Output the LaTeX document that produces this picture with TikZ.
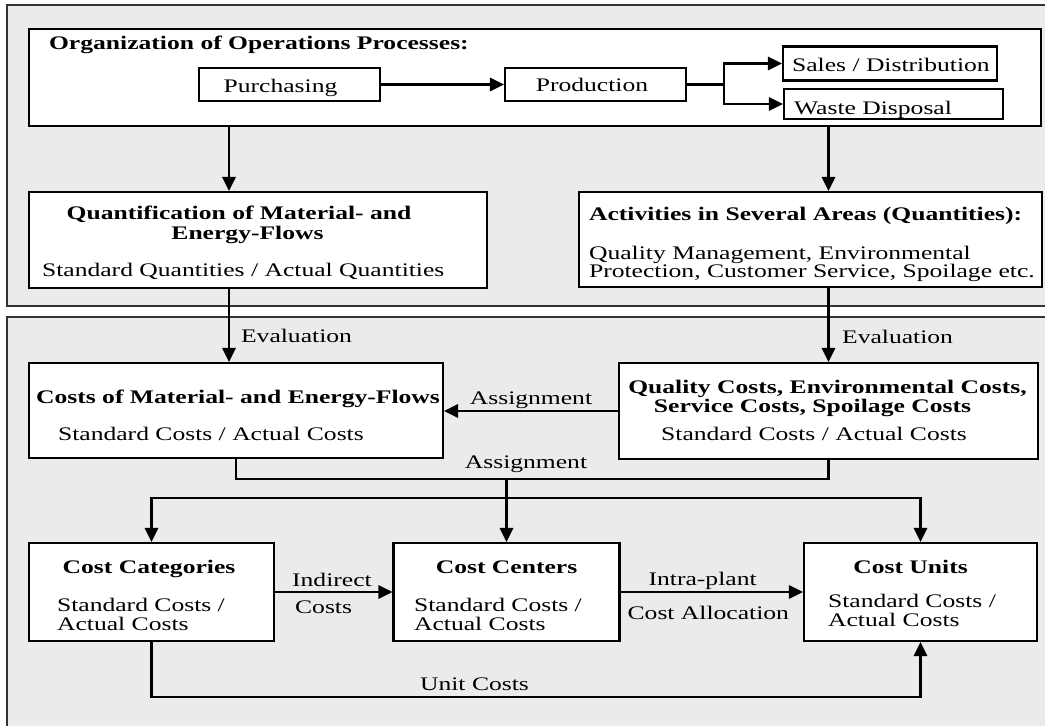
\documentclass[tikz,border=0pt]{standalone}
\usepackage{fontspec}
\setmainfont{Liberation Serif}[FakeStretch=1.333]
\usepackage{tikz}
\usetikzlibrary{arrows.meta,calc,positioning}
\definecolor{panelgray}{RGB}{235,235,235}
\definecolor{rimgray}{RGB}{50,50,50}
\newcommand{\diagfont}{\fontsize{14.4}{16}\selectfont}
\tikzstyle{arrow} = [draw, ->]
\tikzstyle{box} = [rectangle, draw=black, fill=white, inner sep=0pt]
\tikzstyle{txt} = [inner sep=0pt, anchor=base west, font=\diagfont]
\tikzstyle{head} = [txt, font={\diagfont\bfseries}]
\tikzstyle{panel} = [draw=rimgray, fill=panelgray]

\begin{document}
\begin{tikzpicture}[
    x=0.75pt, y=-0.75pt,
    line width=1.6pt,
    >={Triangle[length=10.5pt,width=10pt]},
    font=\diagfont
  ]
    \useasboundingbox (0,0) rectangle (1045,725);
    \clip (0,0) rectangle (1045,725);
    \fill [white] (0,0) rectangle (1045,725);
    \draw [panel] (7,5) rectangle (1060,306);
    \draw [panel] (7,317) rectangle (1060,740);

    % quantities
    \node [box, minimum width=759pt, minimum height=72.75pt] (org) at (535,77.5) {};
    \node [head] (orgt) at (48,49) {Organization of Operations Processes:};
    \node [box, minimum width=135.75pt, minimum height=24.75pt] (purch) at (289.5,84.5) {};
    \node [txt, anchor=base] (purcht) at (280.5,92) {Purchasing};
    \node [box, minimum width=135.75pt, minimum height=24.75pt] (prod) at (595.5,84.5) {};
    \node [txt, anchor=base] (prodt) at (592,91) {Production};
    \node [box, minimum width=160.5pt, minimum height=25.5pt] (sales) at (890,63.5) {};
    \node [txt] (salest) at (791,71) {Sales / Distribution};
    \node [box, minimum width=164.25pt, minimum height=22.5pt] (waste) at (893.5,104) {};
    \node [txt] (wastet) at (793,114) {Waste Disposal};

    \node [box, minimum width=343.5pt, minimum height=72pt] (quant) at (258,240) {};
    \node [head, anchor=base] (quantt1) at (239,219) {Quantification of Material- and};
    \node [head, anchor=base] (quantt2) at (247.5,239) {Energy-Flows};
    \node [txt] (quantb) at (41,276) {Standard Quantities / Actual Quantities};

    \node [box, minimum width=347.25pt, minimum height=71.25pt] (activ) at (810.5,239.5) {};
    \node [head] (activt) at (588,220) {Activities in Several Areas (Quantities):};
    \node [txt] (activb1) at (588,259) {Quality Management, Environmental};
    \node [txt] (activb2) at (588,277) {Protection, Customer Service, Spoilage etc.};

    % costs
    \node [box, minimum width=310.5pt, minimum height=71.25pt] (costs) at (236,410.5) {};
    \node [head, anchor=base] (costst) at (238,403) {Costs of Material- and Energy-Flows};
    \node [txt] (costsb) at (57,440) {Standard Costs / Actual Costs};

    \node [box, minimum width=314.25pt, minimum height=72pt] (quality) at (828.5,411) {};
    \node [head, anchor=base] (qualt1) at (827.5,393) {Quality Costs, Environmental Costs,};
    \node [head, anchor=base] (qualt2) at (812.5,412) {Service Costs, Spoilage Costs};
    \node [txt, anchor=base] (qualb) at (814,440) {Standard Costs / Actual Costs};

    \node [box, minimum width=183.75pt, minimum height=73.5pt] (cat) at (151.5,592) {};
    \node [head, anchor=base] (catt) at (149,573) {Cost Categories};
    \node [txt] (catb1) at (56,611) {Standard Costs /};
    \node [txt] (catb2) at (56,630) {Actual Costs};

    \node [box, minimum width=169.5pt, minimum height=73.5pt] (centers) at (506.5,592) {};
    \node [head, anchor=base] (centt) at (506.5,573) {Cost Centers};
    \node [txt] (centb1) at (413,611) {Standard Costs /};
    \node [txt] (centb2) at (413,630) {Actual Costs};

    \node [box, minimum width=174.75pt, minimum height=73.5pt] (units) at (920.5,592) {};
    \node [head, anchor=base] (unitt) at (910.5,573) {Cost Units};
    \node [txt] (unitb1) at (827,607) {Standard Costs /};
    \node [txt] (unitb2) at (827,626) {Actual Costs};

    % helper coordinates
    \coordinate (lx) at (229,0);
    \coordinate (fork) at ($(prod.east)+(37,0)$);
    \coordinate (asg) at (0,479);
    \coordinate (dist) at (0,498);
    \coordinate (uc) at (0,697);

    \path [arrow] (purch) -- (prod);
    \draw (prod.east) -- (fork);
    \path [arrow] (fork) |- (sales.west);
    \path [arrow] (fork) |- (waste.west);

    \path [arrow] (org.south -| lx) -- (quant.north -| lx);
    \path [arrow] (org.south -| quality.north) -- (activ.north -| quality.north);
    \path [arrow] (quant.south -| lx) --
      node [txt, pos=0.73, xshift=8.25pt] (eval1) {Evaluation} (costs.north -| lx);
    \path [arrow] (activ.south -| quality.north) --
      node [txt, pos=0.75, xshift=9.4pt] (eval2) {Evaluation} (quality.north);

    \path [arrow] (quality.west) --
      node [txt, anchor=base, yshift=5pt] (asg1) {Assignment} (quality.west -| costs.east);
    \draw (costs.south) |- (centers.north |- asg) -| (quality.south);
    \node [txt, anchor=base] (asg2) at (526,468) {Assignment};
    \path [arrow] (centers.north |- asg) -- (centers.north);
    \draw [<->] (cat.north) |- (centers.north |- dist) -| (units.north);

    \path [arrow] (cat.east) --
      node [txt, pos=0, xshift=12pt, yshift=4.5pt] (ind1) {Indirect}
      node [txt, pos=0, xshift=14.25pt, yshift=-15.75pt] (ind2) {Costs} (centers.west);
    \path [arrow] (centers.east) --
      node [txt, pos=0, xshift=20.25pt, yshift=5.25pt] (intra1) {Intra-plant}
      node [txt, pos=0, xshift=4.5pt, yshift=-20.25pt] (intra2) {Cost Allocation} (units.west);
    \path [arrow] (cat.south) -- (cat.south |- uc) -|
      node [txt, anchor=base, pos=0.21, yshift=5.25pt] (unitc) {Unit Costs} (units.south);
  \end{tikzpicture}
\end{document}
